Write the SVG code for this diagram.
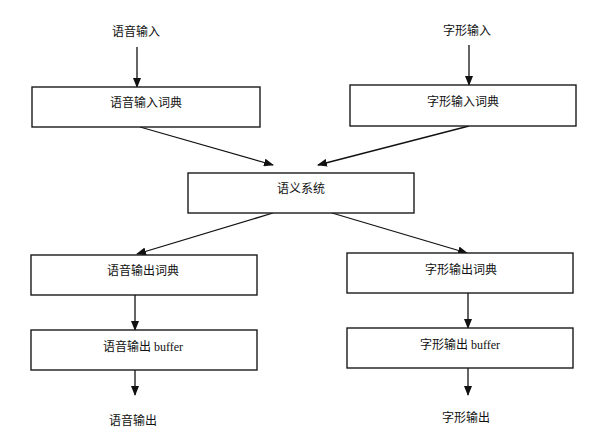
<svg xmlns="http://www.w3.org/2000/svg" width="589" height="442" viewBox="0 0 589 442">
<style>
.box{fill:#fff;stroke:#1a1a1a;stroke-width:1.4}
.t{font-family:"Liberation Serif","Noto Sans CJK SC",serif;font-size:12px;fill:#111;text-anchor:middle;dominant-baseline:central}
.c{stroke:#111;stroke-width:1.3;fill:none;marker-end:url(#ah)}
</style>
<defs>
<marker id="ah" markerUnits="userSpaceOnUse" markerWidth="10" markerHeight="8" refX="9" refY="4" orient="auto">
<path d="M0,0 L10,4 L0,8 Z" fill="#111"/>
</marker>
</defs>
<rect width="589" height="442" fill="#fff"/>
<g id="connectors">
<line class="c" x1="137" y1="47" x2="137" y2="87"/>
<line class="c" x1="469" y1="45" x2="469" y2="85"/>
<line class="c" x1="140" y1="127" x2="273" y2="165"/>
<line class="c" x1="469" y1="126" x2="318" y2="165"/>
<line class="c" x1="273" y1="213" x2="137" y2="254"/>
<line class="c" x1="332" y1="213" x2="467" y2="253"/>
<line class="c" x1="135" y1="292" x2="135" y2="330"/>
<line class="c" x1="468" y1="291" x2="468" y2="328"/>
<line class="c" x1="135" y1="370" x2="135" y2="395"/>
<line class="c" x1="468" y1="368" x2="468" y2="395"/>
</g>
<g id="speech-input"><text class="t" x="136" y="32">语音输入</text></g>
<g id="glyph-input"><text class="t" x="467" y="31">字形输入</text></g>
<g id="speech-input-dict"><rect class="box" x="32" y="87" width="228" height="40"/><text class="t" x="146" y="103">语音输入词典</text></g>
<g id="glyph-input-dict"><rect class="box" x="350" y="85" width="226" height="41"/><text class="t" x="463" y="102">字形输入词典</text></g>
<g id="semantic"><rect class="box" x="188" y="173" width="226" height="40"/><text class="t" x="301" y="189">语义系统</text></g>
<g id="speech-output-dict"><rect class="box" x="31" y="255" width="226" height="40"/><text class="t" x="143" y="271">语音输出词典</text></g>
<g id="glyph-output-dict"><rect class="box" x="347" y="253" width="226" height="40"/><text class="t" x="461" y="270">字形输出词典</text></g>
<g id="speech-output-buffer"><rect class="box" x="31" y="330" width="226" height="40"/><text class="t" x="143" y="347">语音输出 buffer</text></g>
<g id="glyph-output-buffer"><rect class="box" x="347" y="328" width="226" height="40"/><text class="t" x="460" y="345">字形输出 buffer</text></g>
<g id="speech-output"><text class="t" x="133" y="421">语音输出</text></g>
<g id="glyph-output"><text class="t" x="466" y="418">字形输出</text></g>
</svg>
